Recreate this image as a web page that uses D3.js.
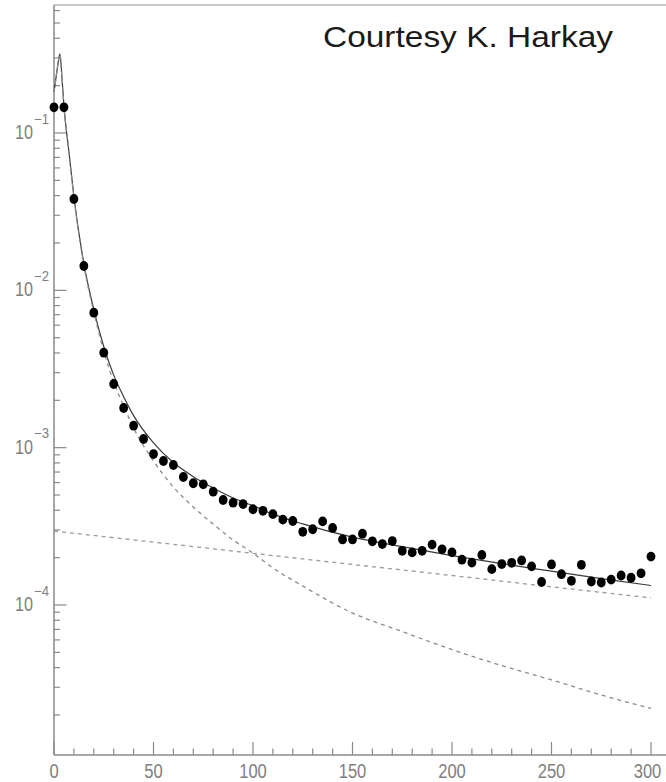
<!DOCTYPE html>
<html>
<head>
<meta charset="utf-8">
<script src="https://cdn.jsdelivr.net/npm/d3@7"></script>
<style>
  html, body { margin: 0; padding: 0; background: #fff; }
  svg { display: block; }
</style>
</head>
<body>
<svg id="chart" width="666" height="782"></svg>
<script>
// ---------- data ----------
const dataX = [0,5,10,15,20,25,30,35,40,45,50,55,60,65,70,75,80,85,90,95,100,105,110,115,120,125,130,135,140,145,150,155,160,165,170,175,180,185,190,195,200,205,210,215,220,225,230,235,240,245,250,255,260,265,270,275,280,285,290,295,300];
const dataY = [0.1457,0.1457,0.03806,0.01428,0.007208,0.004015,0.002539,0.001787,0.001379,0.001135,9.11e-4,8.23e-4,7.76e-4,6.51e-4,5.94e-4,5.85e-4,5.25e-4,4.65e-4,4.47e-4,4.38e-4,4.06e-4,3.97e-4,3.78e-4,3.49e-4,3.42e-4,2.92e-4,3.03e-4,3.40e-4,3.09e-4,2.61e-4,2.61e-4,2.84e-4,2.54e-4,2.44e-4,2.55e-4,2.21e-4,2.16e-4,2.21e-4,2.42e-4,2.26e-4,2.16e-4,1.94e-4,1.86e-4,2.08e-4,1.69e-4,1.82e-4,1.855e-4,1.92e-4,1.76e-4,1.40e-4,1.81e-4,1.57e-4,1.425e-4,1.80e-4,1.41e-4,1.39e-4,1.45e-4,1.54e-4,1.49e-4,1.59e-4,2.03e-4];

const fitX   = [0,1,2,3,4,5,7.5,10,15,20,25,30,35,40,50,60,70,80,90,100,110,125,150,175,200,225,250,275,300];
const solidY = [0.1826,0.2240,0.2749,0.3181,0.2240,0.1488,0.0760,0.0395,0.01478,0.00757,0.004395,0.002890,0.002110,0.001599,1.074e-3,8.04e-4,6.54e-4,5.54e-4,4.79e-4,4.27e-4,3.78e-4,3.28e-4,2.70e-4,2.35e-4,2.06e-4,1.83e-4,1.64e-4,1.47e-4,1.33e-4];
const steepY = [0.1823,0.2237,0.2746,0.3178,0.2237,0.1485,0.0757,0.0392,0.01449,0.00728,0.004115,0.002615,0.00184,0.001334,8.23e-4,5.62e-4,4.20e-4,3.27e-4,2.59e-4,2.14e-4,1.72e-4,1.32e-4,8.89e-5,6.78e-5,5.21e-5,4.12e-5,3.34e-5,2.68e-5,2.20e-5];

const flatX = [0,50,100,150,200,250,300];
const flatY = [2.95e-4,2.51e-4,2.13e-4,1.81e-4,1.54e-4,1.305e-4,1.11e-4];

const xMajorTicks = [0,50,100,150,200,250,300];
const xMinorTicks = [10,20,30,40,60,70,80,90,110,120,130,140,160,170,180,190,210,220,230,240,260,270,280,290];
const yMajorTicks = [1e-1,1e-2,1e-3,1e-4];
const yMajorExp   = ["\u22121","\u22122","\u22123","\u22124"];
const caption = "Courtesy K. Harkay";

// ---------- layout ----------
const svg = d3.select("#chart");
const plotLeft = 54, plotBottom = 755, plotTop = 5, plotRightEdge = 666;
const x = d3.scaleLinear().domain([0, 300]).range([54, 651]);
const y = d3.scaleLog().domain([1e-4, 1e-1]).range([605, 133]);
const yTopVal = y.invert(plotTop), yBotVal = y.invert(plotBottom);

const axisColor = "#8a8a8a";
const labelColor = "#808080";
const font = "'Liberation Sans', Arial, sans-serif";

// frame lines
svg.append("line").attr("x1", plotLeft).attr("x2", plotRightEdge).attr("y1", plotTop).attr("y2", plotTop)
  .attr("stroke", "#b5b5b5").attr("stroke-width", 1.5);
svg.append("line").attr("x1", plotLeft).attr("x2", plotLeft).attr("y1", plotTop).attr("y2", plotBottom)
  .attr("stroke", axisColor).attr("stroke-width", 1.5);
svg.append("line").attr("x1", plotLeft).attr("x2", plotRightEdge).attr("y1", plotBottom).attr("y2", plotBottom)
  .attr("stroke", axisColor).attr("stroke-width", 1.5);

// y minor ticks (log)
const yMinor = [];
[1e-5,1e-4,1e-3,1e-2,1e-1].forEach(d => { for (let k = 2; k <= 9; k++) { const v = d*k; if (v < yTopVal && v > yBotVal) yMinor.push(v); } });
svg.append("g").selectAll("line").data(yMinor).join("line")
  .attr("x1", plotLeft).attr("x2", plotLeft + 6)
  .attr("y1", d => y(d)).attr("y2", d => y(d))
  .attr("stroke", axisColor).attr("stroke-width", 1.2);
svg.append("g").selectAll("line").data(yMajorTicks).join("line")
  .attr("x1", plotLeft).attr("x2", plotLeft + 12.5)
  .attr("y1", d => y(d)).attr("y2", d => y(d))
  .attr("stroke", axisColor).attr("stroke-width", 1.2);

// y labels
const yl = svg.append("g").attr("font-family", font).attr("fill", labelColor);
yMajorTicks.forEach((t, i) => {
  yl.append("text").attr("x", 15).attr("y", y(t) + 6)
    .attr("font-size", 20).attr("textLength", 18).attr("lengthAdjust", "spacingAndGlyphs")
    .text("10");
  yl.append("text").attr("x", 34).attr("y", y(t) - 9.5)
    .attr("font-size", 14).attr("textLength", 15).attr("lengthAdjust", "spacingAndGlyphs")
    .text(yMajorExp[i]);
});

// x ticks
svg.append("g").selectAll("line").data(xMinorTicks).join("line")
  .attr("x1", d => x(d)).attr("x2", d => x(d))
  .attr("y1", plotBottom).attr("y2", plotBottom - 6.5)
  .attr("stroke", axisColor).attr("stroke-width", 1.2);
svg.append("g").selectAll("line").data(xMajorTicks).join("line")
  .attr("x1", d => x(d)).attr("x2", d => x(d))
  .attr("y1", plotBottom).attr("y2", plotBottom - 13)
  .attr("stroke", axisColor).attr("stroke-width", 1.2);
svg.append("g").attr("font-family", font).attr("fill", labelColor)
  .selectAll("text").data(xMajorTicks).join("text")
  .attr("x", d => d === 300 ? x(d) - 3.5 : x(d)).attr("y", 778)
  .attr("text-anchor", "middle").attr("font-size", 20)
  .attr("textLength", d => String(d).length * 9.2).attr("lengthAdjust", "spacingAndGlyphs")
  .text(d => d);

// curves
const lineGen = (xs) => d3.line()
  .x((d, i) => x(xs[i])).y(d => y(d))
  .curve(d3.curveMonotoneX);

svg.append("path").datum(solidY).attr("d", lineGen(fitX))
  .attr("fill", "none").attr("stroke", "#3a3a3a").attr("stroke-width", 1.2);
svg.append("path").datum(steepY).attr("d", lineGen(fitX))
  .attr("fill", "none").attr("stroke", "#8c8c8c").attr("stroke-width", 1.3)
  .attr("stroke-dasharray", "4,4");
svg.append("path").datum(flatY).attr("d", lineGen(flatX))
  .attr("fill", "none").attr("stroke", "#9a9a9a").attr("stroke-width", 1.3)
  .attr("stroke-dasharray", "4,4");

// data points
svg.append("g").selectAll("ellipse").data(dataY).join("ellipse")
  .attr("cx", (d, i) => x(dataX[i])).attr("cy", d => y(d))
  .attr("rx", 4.4).attr("ry", 4.9).attr("fill", "#000");

// caption
svg.append("text").attr("x", 323).attr("y", 47)
  .attr("font-family", font).attr("font-size", 30).attr("fill", "#1a1a1a")
  .attr("textLength", 290).attr("lengthAdjust", "spacingAndGlyphs")
  .text(caption);
</script>
</body>
</html>
